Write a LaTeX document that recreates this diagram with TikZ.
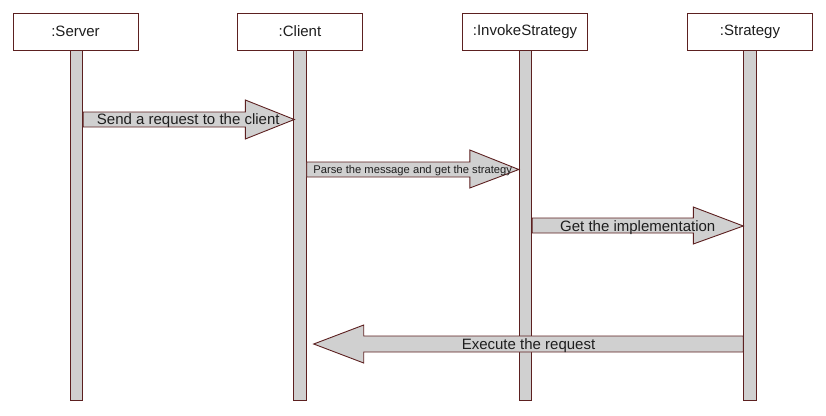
\documentclass[tikz,border=0pt]{standalone}
\usepackage{fontspec}
\setmainfont{Liberation Sans}
\usetikzlibrary{calc}
\definecolor{lc}{RGB}{92,32,32}
\definecolor{gf}{RGB}{208,208,208}
\definecolor{tc}{RGB}{30,30,30}
\tikzset{
  objbox/.style={draw=lc, line width=0.9pt, fill=white, minimum width=125pt, minimum height=37pt, inner sep=0pt, font=\fontsize{15}{17}\selectfont, text=tc},
  lifebar/.style={draw=lc, line width=0.9pt, fill=gf, minimum width=12.5pt, minimum height=350pt, inner sep=0pt, anchor=north},
  msg/.style={draw=lc, line width=0.9pt, fill=gf, line join=miter},
  msglabel/.style={inner sep=0pt, text=tc, font=\fontsize{15}{17}\selectfont, yshift=-1.2pt},
  smalllabel/.style={inner sep=0pt, text=tc, font=\fontsize{11.2}{13}\selectfont, yshift=-0.8pt}
}
\begin{document}
\begin{tikzpicture}[x=1pt,y=-1pt]
\useasboundingbox (0,0) rectangle (826,415);
% objects
\node[objbox] (server) at (75.5,31.5) {:Server};
\node[objbox] (client) at (300,31.5) {:Client};
\node[objbox] (invoke) at (525,31.5) {:InvokeStrategy};
\node[objbox] (strat) at (750,31.5) {:Strategy};
% lifelines
\node[lifebar] (sl) at (76.5,50) {};
\node[lifebar] (cl) at (300,50) {};
\node[lifebar] (il) at (525.5,50) {};
\node[lifebar] (tl) at (750,50) {};
% message 1
\draw[msg] (sl.east |- 0,112) -- ($(cl.west |- 0,112)+(-48,0)$) -- ($(cl.west |- 0,100)+(-48,0)$)
  -- ($(cl.west |- 0,119.5)+(1,0)$) -- ($(cl.west |- 0,139)+(-48,0)$) -- ($(cl.west |- 0,127)+(-48,0)$)
  -- (sl.east |- 0,127) -- cycle;
\node[msglabel] (m1) at ($(sl.east |- 0,119.5)!0.5!(cl.west |- 0,119.5)$) {Send a request to the client};
% message 2
\draw[msg] (cl.east |- 0,162) -- ($(il.west |- 0,162)+(-49,0)$) -- ($(il.west |- 0,150)+(-49,0)$)
  -- (il.west |- 0,169.5) -- ($(il.west |- 0,188)+(-49,0)$) -- ($(il.west |- 0,177)+(-49,0)$)
  -- (cl.east |- 0,177) -- cycle;
\node[smalllabel] (m2) at ($(cl.east |- 0,170)!0.5!(il.west |- 0,170)$) {Parse the message and get the strategy};
% message 3
\draw[msg] (il.east |- 0,218) -- ($(tl.west |- 0,218)+(-50,0)$) -- ($(tl.west |- 0,207)+(-50,0)$)
  -- (tl.west |- 0,226) -- ($(tl.west |- 0,244)+(-50,0)$) -- ($(tl.west |- 0,233)+(-50,0)$)
  -- (il.east |- 0,233) -- cycle;
\node[msglabel] (m3) at ($(il.east |- 0,226)!0.5!(tl.west |- 0,226)$) {Get the implementation};
% message 4
\coordinate (t4) at ($(cl.east |- 0,344)+(7,0)$);
\draw[msg] (tl.west |- 0,336) -- ($(t4 |- 0,336)+(50,0)$) -- ($(t4 |- 0,325)+(50,0)$)
  -- (t4) -- ($(t4 |- 0,363)+(50,0)$) -- ($(t4 |- 0,352)+(50,0)$)
  -- (tl.west |- 0,352) -- cycle;
\node[msglabel] (m4) at ($(t4)!0.5!(tl.west |- 0,344)$) {Execute the request};
\end{tikzpicture}
\end{document}
